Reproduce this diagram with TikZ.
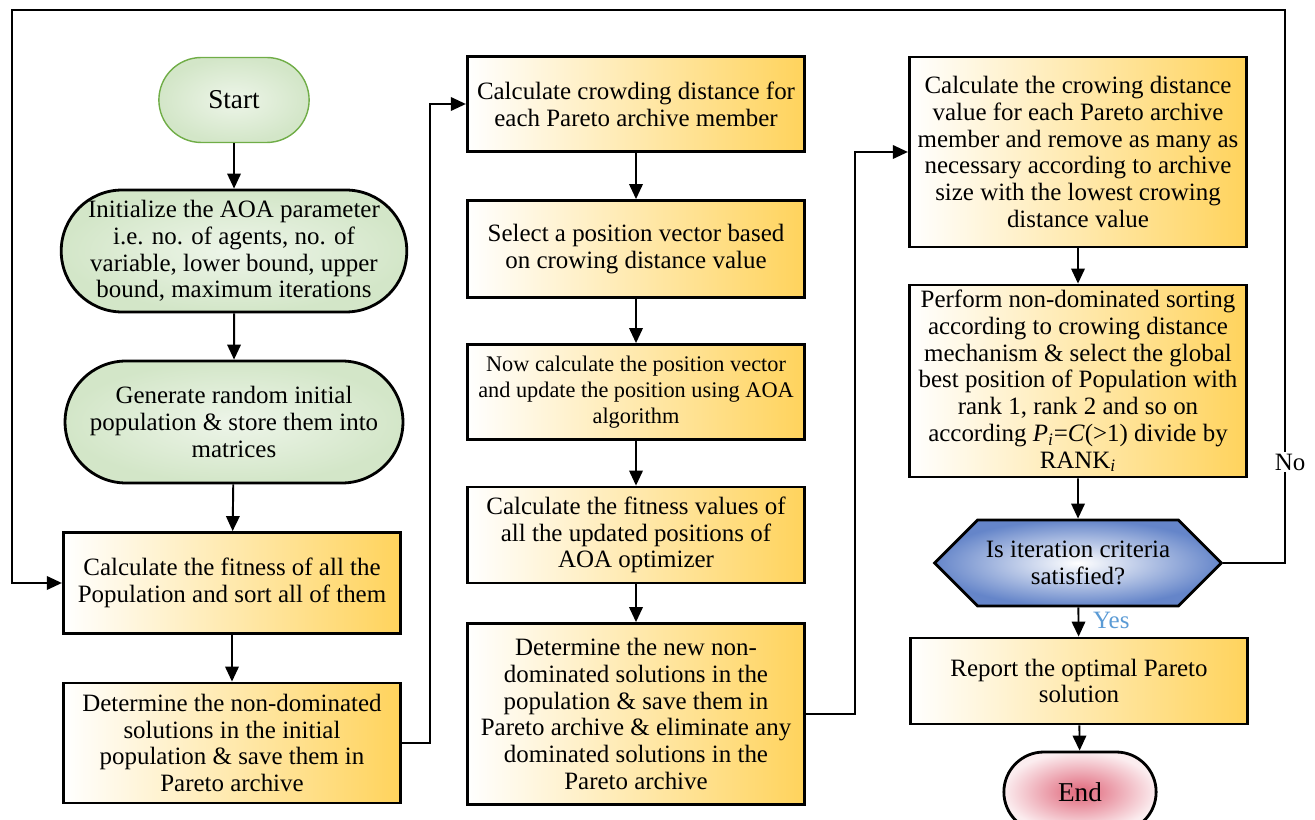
\documentclass[tikz,border=0pt]{standalone}
\usepackage{fontspec}
\setmainfont{Liberation Serif}
\usetikzlibrary{arrows.meta,shapes.misc,shapes.symbols}
\definecolor{oro}{HTML}{FFD35C}
\definecolor{verde}{HTML}{D3E6C8}
\definecolor{verdeb}{HTML}{70AD47}
\definecolor{azulh}{HTML}{4A70C0}
\definecolor{rojo}{HTML}{E0667A}
\definecolor{cielo}{HTML}{5B9BD5}
\tikzset{
 procbox/.style={draw=black,line width=1.6pt,left color=white,right color=oro,align=center,minimum width=6.75cm,inner sep=2pt},
 greenterm/.style={rounded rectangle,draw=black,line width=1.6pt,inner color=verde!40,outer color=verde,align=center,minimum width=6.76cm,minimum height=2.44cm,inner sep=0pt},
 startterm/.style={rounded rectangle,draw=verdeb,line width=0.8pt,inner color=verde!40,outer color=verde,minimum width=3.24cm,minimum height=1.7cm,font=\fontsize{15.5}{18}\selectfont},
 endterm/.style={rounded rectangle,draw=black,line width=1.6pt,inner color=rojo,outer color=rojo!12,minimum width=3.28cm,minimum height=1.6cm,font=\fontsize{15.5}{18}\selectfont},
 decide/.style={signal,signal to=west and east,signal pointer angle=90,draw=black,line width=1.6pt,inner color=white,outer color=azulh!85,minimum width=5.74cm,minimum height=1.72cm,align=center},
 flow/.style={line width=1.1pt,-{Triangle[length=0.3cm,width=0.27cm]}},
}

\begin{document}
\begin{tikzpicture}[x=0.02cm,y=-0.02cm,font=\fontsize{14.2}{15.2}\selectfont]
\useasboundingbox (0,0) rectangle (1315,820);

% column 1
\node[startterm] (start) at (234,100) {Start};
\node[greenterm] (init) at (234,251) {Initialize the AOA parameter\\i.e. no. of agents, no. of\\variable, lower bound, upper\\bound, maximum iterations};
\node[greenterm] (gen) at (234,422) {Generate random initial\\population \& store them into\\matrices};
\node[procbox,minimum height=2.02cm] (fit) at (232,583) {Calculate the fitness of all the\\Population and sort all of them};
\node[procbox,minimum height=2.4cm] (nondom) at (232,743) {Determine the non-dominated\\solutions in the initial\\population \& save them in\\Pareto archive};

% column 2
\node[procbox,minimum height=1.9cm] (crowd) at (636,104) {Calculate crowding distance for\\each Pareto archive member};
\node[procbox,minimum height=1.94cm] (select) at (636,249) {Select a position vector based\\on crowing distance value};
\node[procbox,minimum height=1.9cm,font=\fontsize{12.7}{14.8}\selectfont] (update) at (636,392) {Now calculate the position vector\\and update the position using AOA\\algorithm};
\node[procbox,minimum height=1.92cm] (fitval) at (636,535) {Calculate the fitness values of\\all the updated positions of\\AOA optimizer};
\node[procbox,minimum height=3.62cm] (newdom) at (636,714) {Determine the new non-\\dominated solutions in the\\population \& save them in\\Pareto archive \& eliminate any\\dominated solutions in the\\Pareto archive};

% column 3
\node[procbox,minimum height=3.8cm] (remove) at (1078,152) {Calculate the crowing distance\\value for each Pareto archive\\member and remove as many as\\necessary according to archive\\size with the lowest crowing\\distance value};
\node[procbox,minimum height=3.84cm] (sort) at (1078,381) {Perform non-dominated sorting\\according to crowing distance\\mechanism \& select the global\\best position of Population with\\rank 1, rank 2 and so on\\according \textit{P}\textsubscript{\textit{i}}=\textit{C}(>1) divide by\\RANK\textsubscript{\textit{i}}};
\node[decide] (check) at (1078,563) {Is iteration criteria\\satisfied?};
\node[procbox,minimum height=1.72cm] (report) at (1079,681) {Report the optimal Pareto\\solution};
\node[endterm] (fin) at (1080,792) {End};

% connectors
\draw[flow] (start) -- (init);
\draw[flow] (init) -- (gen);
\draw[flow] (gen) -- (fit);
\draw[flow] (fit) -- (nondom);
\draw[flow] (nondom.east) -- ++(28,0) |- (crowd.west);
\draw[flow] (crowd) -- (select);
\draw[flow] (select) -- (update);
\draw[flow] (update) -- (fitval);
\draw[flow] (fitval) -- (newdom);
\draw[flow] (newdom.east) -- ++(49,0) |- (remove.west);
\draw[flow] (remove) -- (sort);
\draw[flow] (sort) -- (check);
\draw[flow] (check) -- (report);
\draw[flow] (report) -- (fin);
\coordinate (loopr) at (1285,10);
\coordinate (loopl) at (12,10);
\draw[flow] (check.east) -| (loopr) -- (loopl) |- (fit.west);
\node[fill=white,inner sep=1pt] (no) at (1290,462) {No};
\node[text=cielo,anchor=west] (yes) at (1087,620) {Yes};

\end{tikzpicture}
\end{document}
